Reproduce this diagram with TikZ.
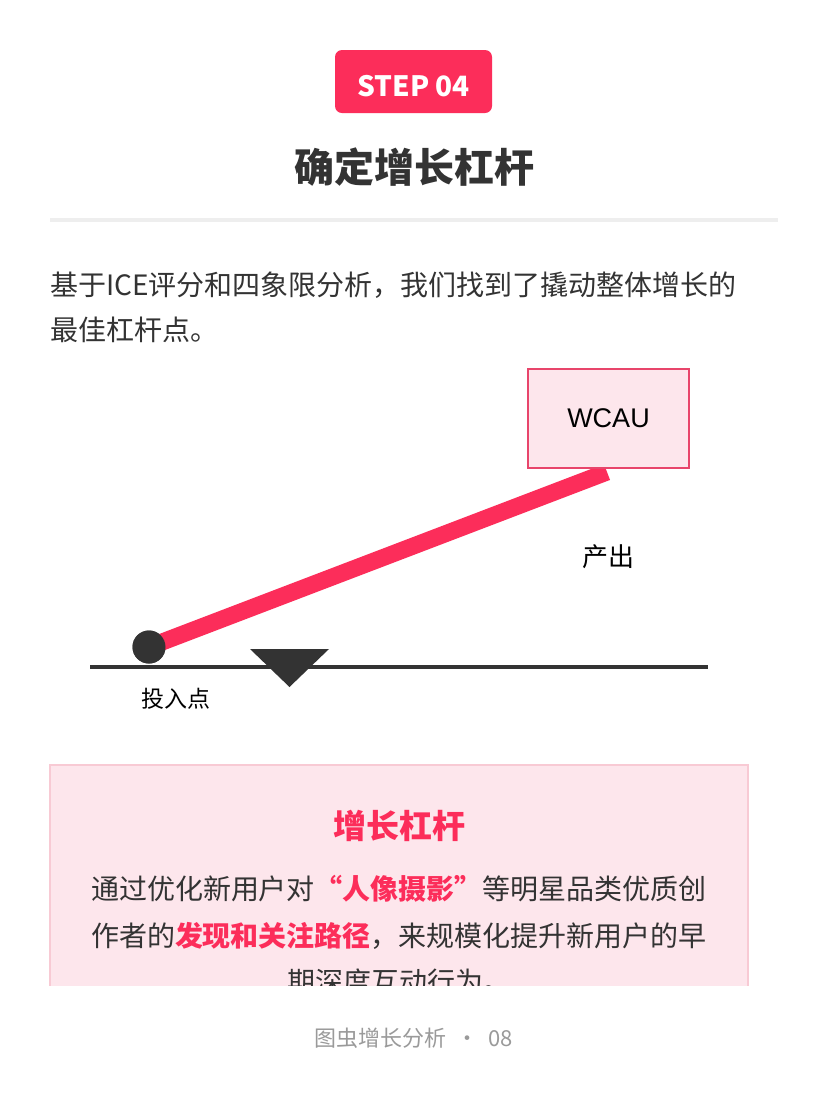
\documentclass[tikz,border=0pt]{standalone}
\usepackage{fontspec}
\setmainfont{Noto Sans CJK SC}
\newfontfamily\arialfont{Liberation Sans}
\definecolor{brandred}{HTML}{FC2D5A}
\definecolor{darkgray}{HTML}{333333}
\definecolor{cardpink}{HTML}{FDE6EC}
\definecolor{cardborder}{HTML}{F8CAD4}
\definecolor{boxborder}{HTML}{E8456B}
\definecolor{footgray}{HTML}{9A9A9A}
\definecolor{divider}{HTML}{EEEEEE}
\tikzset{
  badge/.style={fill=brandred, rounded corners=7pt, minimum width=157pt, minimum height=63pt, inner sep=0pt, text=white, font=\fontsize{28}{30}\selectfont\bfseries},
  titletext/.style={inner sep=0pt, text=darkgray, font=\fontsize{40}{44}\selectfont\bfseries},
  bodytext/.style={inner sep=0pt, text=darkgray, font=\fontsize{28}{36}\selectfont},
  metricbox/.style={draw=boxborder, line width=1.5pt, fill=cardpink, minimum width=161pt, minimum height=99pt, inner sep=0pt, font=\arialfont\fontsize{27}{30}\selectfont, text=black},
  lever/.style={draw=brandred, line width=17pt, line cap=butt},
  ball/.style={circle, fill=darkgray, minimum size=33pt, inner sep=0pt},
  smalllabel/.style={inner sep=0pt, text=black},
  cardtitle/.style={inner sep=0pt, text=brandred, font=\fontsize{33}{36}\selectfont\bfseries},
  cardtext/.style={inner sep=0pt, text=darkgray, font=\fontsize{28}{36}\selectfont},
  foot/.style={inner sep=0pt, text=footgray, font=\fontsize{22}{26}\selectfont},
}
\newcommand{\hl}[1]{\textcolor{brandred}{\bfseries #1}}
\begin{document}
\begin{tikzpicture}[x=1pt, y=-1pt]
\useasboundingbox (0,0) rectangle (828,1104);
\fill[white] (0,0) rectangle (828,1104);
% header
\node[badge] (step) at (413.5,81.5) {\raisebox{-14.5pt}[0pt][0pt]{STEP 04}};
\node[titletext] (title) at (414,167) {确定增长杠杆};
\draw[divider, line width=4pt] (50,220) -- (778,220);
% intro paragraph
\node[bodytext, anchor=west] (intro1) at (50,285) {基于ICE评分和四象限分析，我们找到了撬动整体增长的};
\node[bodytext, anchor=west] (intro2) at (50,330) {最佳杠杆点。};
% lever diagram
\draw[darkgray, line width=4pt] (90,667) -- (708,667);
\fill[darkgray] (250,649) -- (329,649) -- (289.5,687) -- cycle;
\coordinate (leverend) at (607,472);
\node[ball] (input) at (149,647) {};
\draw[lever] (input.center) -- (leverend);
\node[ball] at (149,647) {};
\node[metricbox] (wcau) at (608.5,418.5) {WCAU};
\node[smalllabel, font=\fontsize{26}{30}\selectfont] (output) at (608,557) {产出};
\node[smalllabel, font=\fontsize{23}{26}\selectfont] (inputlabel) at (176,699) {投入点};
% card
\begin{scope}
\clip (0,0) rectangle (828,985);
\draw[fill=cardpink, draw=cardborder, line width=2pt] (50,765) rectangle (748,1020);
\node[cardtitle] (cardtitle) at (399,826) {增长杠杆};
\node[cardtext] (line1) at (399,889) {通过优化新用户对\hl{“人像摄影”}等明星品类优质创};
\node[cardtext] (line2) at (399,936) {作者的\hl{发现和关注路径}，来规模化提升新用户的早};
\node[cardtext] (line3) at (399,982) {期深度互动行为。};
\end{scope}
% footer
\node[foot] (footer) at (414,1038) {图虫增长分析 \ · \ 08};
\end{tikzpicture}
\end{document}
